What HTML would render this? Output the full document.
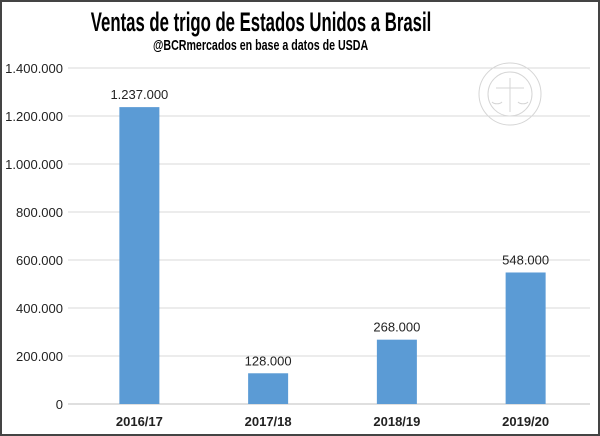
<!DOCTYPE html>
<html><head><meta charset="utf-8"><style>
body{margin:0;background:#fff}
#c{position:relative;width:600px;height:436px;box-sizing:border-box;border:2px solid #444;overflow:hidden;font-family:"Liberation Sans",sans-serif}
.t{position:absolute;left:0;width:520px;text-align:center;font-family:"Liberation Sans",sans-serif;font-weight:bold;color:#000;white-space:nowrap}
</style></head><body>
<div id="c">
<div class="t" style="top:5px;left:-10px;font-size:27px;transform:scaleX(0.62);transform-origin:260px 0">Ventas de trigo de Estados Unidos a Brasil</div>
<div class="t" style="top:35px;left:-2px;font-size:15px;transform:scaleX(0.71);transform-origin:262px 0">@BCRmercados en base a datos de USDA</div>
<svg id="s" width="596" height="432" style="position:absolute;left:0;top:0">
<g opacity="0.35" stroke="#888" fill="none">
<circle cx="508" cy="92" r="31"/><circle cx="508" cy="92" r="22"/>
<line x1="508" y1="76" x2="508" y2="110"/><line x1="494" y1="86" x2="522" y2="86"/>
<path d="M490 100 a6 4 0 0 0 10 0 M516 100 a6 4 0 0 0 10 0"/>
</g>
</svg>
</div>
<script>
const categories=["2016/17","2017/18","2018/19","2019/20"];
const values=[1237000,128000,268000,548000];
const valueLabels=["1.237.000","128.000","268.000","548.000"];
const ticks=[0,200000,400000,600000,800000,1000000,1200000,1400000];
const tickLabels=["0","200.000","400.000","600.000","800.000","1.000.000","1.200.000","1.400.000"];
const s=document.getElementById('s'),NS="http://www.w3.org/2000/svg";
const x0=73,x1=588,yTop=66,yBot=402;
const y=v=>yBot-(v/1400000)*(yBot-yTop);
const bw=(x1-x0)/categories.length;
const xc=i=>x0+bw*(i+0.5);
function mk(t,a,txt){const e=document.createElementNS(NS,t);for(const k in a)e.setAttribute(k,a[k]);if(txt!=null)e.textContent=txt;s.appendChild(e);return e;}
ticks.forEach((v,i)=>{
 const g=mk('line',{x1:66,x2:x1,y1:y(v),y2:y(v),stroke:i?'#d9d9d9':'#bfbfbf','stroke-width':1});
 
 
 const t=mk('text',{x:61,y:y(v)+5,'text-anchor':'end','font-size':13,fill:'#222','font-family':'Liberation Sans, sans-serif'},tickLabels[i]);
 
 
});
categories.forEach((c,i)=>{
 const r=mk('rect',{x:xc(i)-20,y:y(values[i]),width:40,height:yBot-y(values[i]),fill:'#5b9bd5'});
 
 
 const l=mk('text',{x:xc(i),y:y(values[i])-8,'text-anchor':'middle','font-size':13,fill:'#222','font-family':'Liberation Sans, sans-serif'},valueLabels[i]);
 
 
 const t=mk('text',{x:xc(i),y:424,'text-anchor':'middle','font-size':13,'font-weight':'bold',fill:'#222','font-family':'Liberation Sans, sans-serif'},c);
 
 
});
</script>
</body></html>
